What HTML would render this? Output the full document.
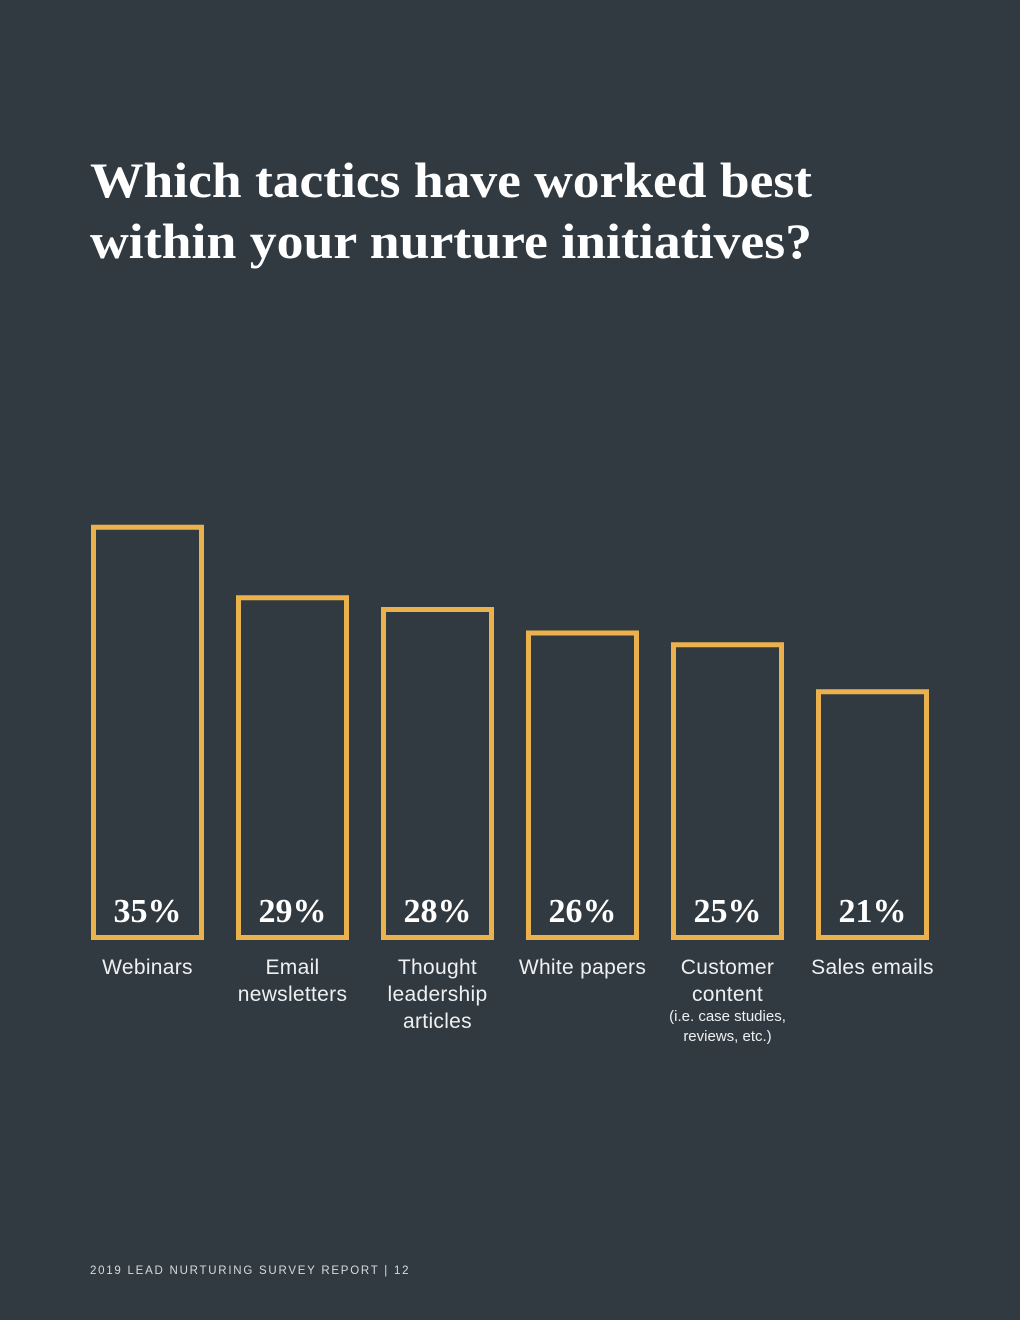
<!DOCTYPE html>
<html><head><meta charset="utf-8"><style>
html,body{margin:0;padding:0;background:#313a41;}
svg{display:block;}
</style></head><body>
<svg width="1020" height="1320" viewBox="0 0 1020 1320">
<rect width="1020" height="1320" fill="#313a41"/>
<text x="90" y="197" font-family="Liberation Serif, serif" font-weight="bold" font-size="50" fill="#ffffff" textLength="722" lengthAdjust="spacingAndGlyphs">Which tactics have worked best</text>
<text x="90" y="258" font-family="Liberation Serif, serif" font-weight="bold" font-size="50" fill="#ffffff" textLength="722" lengthAdjust="spacingAndGlyphs">within your nurture initiatives?</text>
<g id="bars"></g>
<text x="90" y="1274" font-family="Liberation Sans, sans-serif" font-size="11.5" letter-spacing="1.75" fill="#d8dadc">2019 LEAD NURTURING SURVEY REPORT  |  12</text>
</svg>
<script>
const categories = [["Webinars"],["Email","newsletters"],["Thought","leadership","articles"],["White papers"],["Customer","content"],["Sales emails"]];
const values = [35,29,28,26,25,21];
const subLabels = [[],[],[],[],["(i.e. case studies,","reviews, etc.)"],[]];
const NS="http://www.w3.org/2000/svg";
const g=document.getElementById('bars');
const baseY=940, pxPer=11.75, offset=4, x0=91, step=145, bw=113, sw=5;
function yScale(v){return baseY - offset - v*pxPer;}
function xScale(i){return x0 + i*step;}
function mk(tag,attrs){const e=document.createElementNS(NS,tag);for(const k in attrs)e.setAttribute(k,attrs[k]);return e;}
values.forEach((v,i)=>{
  const x=xScale(i), top=yScale(v), cx=x+bw/2;
  const r=mk('rect',{x:x+sw/2,y:top+sw/2,width:bw-sw,height:baseY-top-sw,fill:'none',stroke:'#ebb14d','stroke-width':sw});
  
  
  g.appendChild(r);
  const t=mk('text',{x:cx,y:922,'text-anchor':'middle','font-family':'Liberation Serif, serif','font-weight':'bold','font-size':'34',fill:'#ffffff'});
  t.textContent=v+'%';
  
  
  g.appendChild(t);
  categories[i].forEach((line,j)=>{
    const l=mk('text',{x:cx,y:974+j*27,'text-anchor':'middle','font-family':'Liberation Sans, sans-serif','font-size':'21','letter-spacing':'0.3',fill:'#eef0f1'});
    l.textContent=line;
    
    
    g.appendChild(l);
  });
  subLabels[i].forEach((line,j)=>{
    const l=mk('text',{x:cx,y:1021+j*20,'text-anchor':'middle','font-family':'Liberation Sans, sans-serif','font-size':'15',fill:'#eef0f1'});
    l.textContent=line;
    
    
    g.appendChild(l);
  });
});
</script>
</body></html>
